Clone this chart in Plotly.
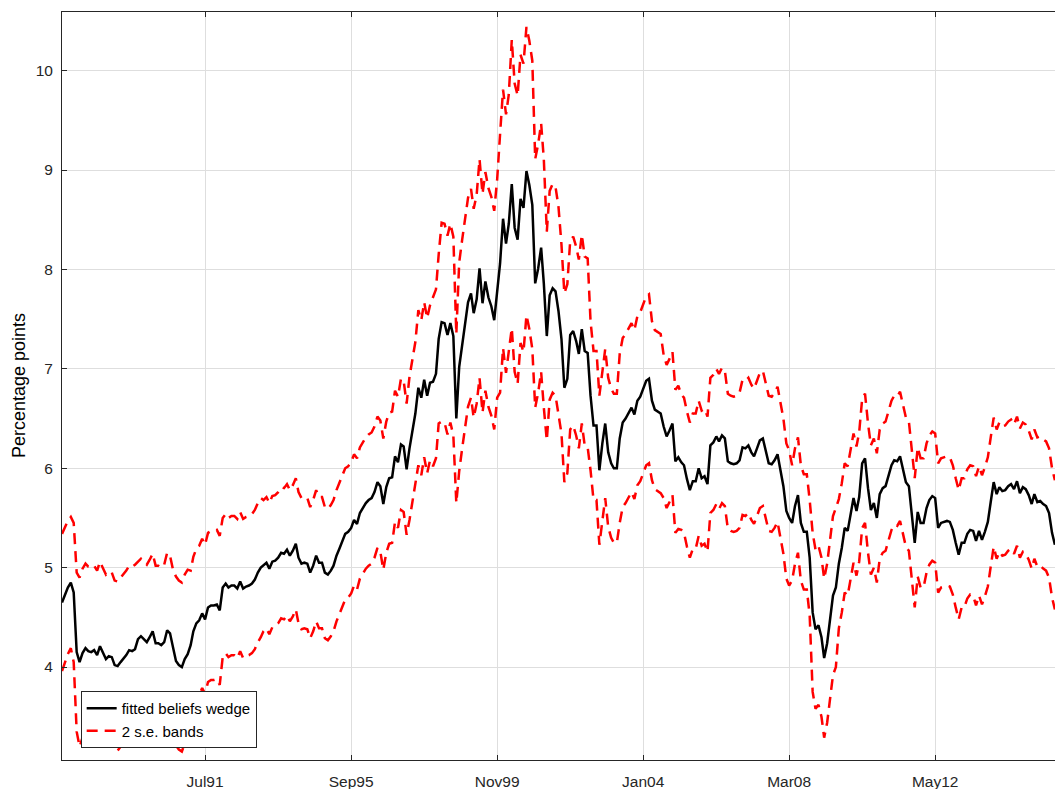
import pandas as pd
import plotly.graph_objects as go

# Monthly series starting June 1987
start_month = "1987-06-01"

fitted = [
    4.65, 4.73, 4.80, 4.85, 4.75, 4.15, 4.05, 4.14, 4.19, 4.16,
    4.15, 4.17, 4.12, 4.21, 4.14, 4.08, 4.11, 4.10, 4.02, 4.01,
    4.05, 4.08, 4.12, 4.17, 4.16, 4.18, 4.28, 4.31, 4.28, 4.25,
    4.30, 4.36, 4.24, 4.24, 4.22, 4.25, 4.37, 4.34, 4.20, 4.06,
    4.02, 4.00, 4.08, 4.13, 4.22, 4.36, 4.44, 4.47, 4.54, 4.48,
    4.60, 4.62, 4.62, 4.63, 4.57, 4.80, 4.84, 4.80, 4.82, 4.82,
    4.79, 4.86, 4.79, 4.81, 4.82, 4.84, 4.88, 4.95, 5.00, 5.02,
    5.05, 4.99, 5.06, 5.07, 5.10, 5.15, 5.14, 5.18, 5.12, 5.17,
    5.24, 5.10, 5.04, 5.05, 5.04, 4.95, 5.02, 5.12, 5.05, 5.05,
    4.95, 4.93, 4.97, 5.02, 5.12, 5.19, 5.26, 5.34, 5.36, 5.40,
    5.48, 5.44, 5.55, 5.60, 5.65, 5.68, 5.70, 5.76, 5.86, 5.82,
    5.64, 5.81, 5.90, 5.91, 6.12, 6.06, 6.24, 6.22, 5.99, 6.20,
    6.40, 6.55, 6.81, 6.71, 6.89, 6.73, 6.86, 6.87, 6.95, 7.30,
    7.47, 7.46, 7.34, 7.46, 7.33, 6.50, 7.02, 7.25, 7.45, 7.67,
    7.76, 7.56, 7.70, 8.01, 7.66, 7.88, 7.72, 7.63, 7.49, 7.81,
    8.06, 8.51, 8.26, 8.46, 8.86, 8.42, 8.30, 8.71, 8.62, 8.99,
    8.85, 8.65, 7.86, 8.01, 8.22, 7.86, 7.33, 7.74, 7.81, 7.78,
    7.58, 7.30, 6.81, 6.90, 7.34, 7.38, 7.28, 7.15, 7.40, 7.18,
    7.16, 6.73, 6.43, 6.43, 5.98, 6.25, 6.45, 6.16, 6.05, 6.00,
    6.00, 6.30, 6.46, 6.50, 6.55, 6.61, 6.54, 6.68, 6.72, 6.80,
    6.88, 6.90, 6.68, 6.59, 6.57, 6.55, 6.42, 6.32, 6.38, 6.45,
    6.07, 6.11, 6.06, 6.03, 5.89, 5.78, 5.87, 5.87, 6.00, 5.90,
    5.92, 5.84, 6.23, 6.26, 6.32, 6.27, 6.33, 6.30, 6.07, 6.05,
    6.04, 6.05, 6.08, 6.21, 6.20, 6.23, 6.16, 6.12, 6.20, 6.28,
    6.30, 6.19, 6.05, 6.04, 6.08, 6.14, 5.96, 5.82, 5.57, 5.50,
    5.45, 5.62, 5.73, 5.45, 5.36, 5.36, 5.10, 4.55, 4.38, 4.42,
    4.30, 4.09, 4.24, 4.50, 4.72, 4.80, 5.04, 5.20, 5.40, 5.37,
    5.55, 5.70, 5.57, 5.71, 6.05, 6.10, 5.80, 5.58, 5.65, 5.50,
    5.74, 5.80, 5.82, 5.92, 6.03, 6.08, 6.07, 6.12, 5.99, 5.86,
    5.82, 5.52, 5.25, 5.56, 5.45, 5.45, 5.60, 5.68, 5.72, 5.70,
    5.40, 5.45, 5.46, 5.47, 5.46, 5.38, 5.25, 5.13, 5.25, 5.25,
    5.34, 5.38, 5.37, 5.27, 5.37, 5.28, 5.36, 5.46, 5.66, 5.86,
    5.74, 5.81, 5.77, 5.78, 5.82, 5.84, 5.79, 5.87, 5.75, 5.81,
    5.79, 5.73, 5.64, 5.74, 5.66, 5.67, 5.64, 5.62, 5.55, 5.35,
    5.23,
]

# Half-width of the 2 s.e. band (distance band-to-line read per stretch of months)
band_halfwidth = (
    [0.69, 0.68, 0.67, 0.66, 0.70, 0.80]
    + [0.85] * 20 + [0.78] * 13 + [0.85] * 5 + [0.75] * 11 + [0.70] * 14
    + [0.66] * 50 + [0.72] * 3 + [0.78] * 5 + [0.85] * 3 + [1.00] * 5
    + [0.85] * 1 + [1.05] * 7 + [1.10] * 7 + [1.30] * 4 + [1.45] * 8
    + [1.25] * 4 + [1.05] * 5 + [0.95] * 10 + [0.75] * 10 + [0.85] * 11
    + [0.80] * 4 + [0.72] * 6 + [0.68] * 38 + [0.58] * 7 + [0.80] * 9
    + [0.65] * 75
)

tick_dates = ["1991-07-01", "1995-09-01", "1999-11-01", "2004-01-01", "2008-03-01", "2012-05-01"]
tick_labels = ["Jul91", "Sep95", "Nov99", "Jan04", "Mar08", "May12"]
y_ticks = [4, 5, 6, 7, 8, 9, 10]

dates = pd.date_range(start_month, periods=len(fitted), freq="MS")
upper = [f + b for f, b in zip(fitted, band_halfwidth)]
lower = [f - b for f, b in zip(fitted, band_halfwidth)]

FONT = "Liberation Sans, Arial, Helvetica, sans-serif"
AX = "#262626"

fig = go.Figure()
fig.add_trace(go.Scatter(x=dates, y=fitted, mode="lines", name="fitted beliefs wedge",
                         line=dict(color="black", width=2.5)))
fig.add_trace(go.Scatter(x=dates, y=upper, mode="lines", name="2 s.e. bands", legendgroup="se",
                         line=dict(color="#ff0000", width=2.5, dash="11px,7px")))
fig.add_trace(go.Scatter(x=dates, y=lower, mode="lines", name="2 s.e. bands", legendgroup="se",
                         showlegend=False,
                         line=dict(color="#ff0000", width=2.5, dash="11px,7px")))

fig.update_layout(
    width=1055, height=789,
    margin=dict(l=62, r=0, t=12, b=29),
    plot_bgcolor="white", paper_bgcolor="white",
    font=dict(family=FONT, size=15, color=AX),
    showlegend=True,
    legend=dict(x=0.0188, y=0.016, xanchor="left", yanchor="bottom",
                bgcolor="white", bordercolor=AX, borderwidth=1,
                font=dict(family=FONT, size=15, color="black"),
                tracegroupgap=0),
    xaxis=dict(range=["1987-06-01", "2015-10-02"], tickvals=tick_dates, ticktext=tick_labels,
               showgrid=True, gridcolor="#dedede", gridwidth=1,
               showline=True, linecolor=AX, linewidth=1, mirror="ticks",
               ticks="inside", ticklen=5, tickcolor=AX,
               tickfont=dict(size=15.5, color=AX), ticklabelstandoff=7, zeroline=False),
    yaxis=dict(range=[3.065, 10.59], tickvals=y_ticks,
               showgrid=True, gridcolor="#dedede", gridwidth=1,
               showline=True, linecolor=AX, linewidth=1, mirror=False,
               ticks="inside", ticklen=5, tickcolor=AX,
               tickfont=dict(size=15.5, color=AX), ticklabelstandoff=5, zeroline=False),
    annotations=[dict(text="Percentage points", xref="paper", yref="paper",
                      x=-0.0433, y=0.5, xanchor="center", yanchor="middle",
                      textangle=-90, showarrow=False,
                      font=dict(family=FONT, size=18, color="black"))],
)

fig.write_html("out.html", config={"displayModeBar": False},
               post_script="document.body.style.margin='0px';document.body.style.overflow='hidden';")
